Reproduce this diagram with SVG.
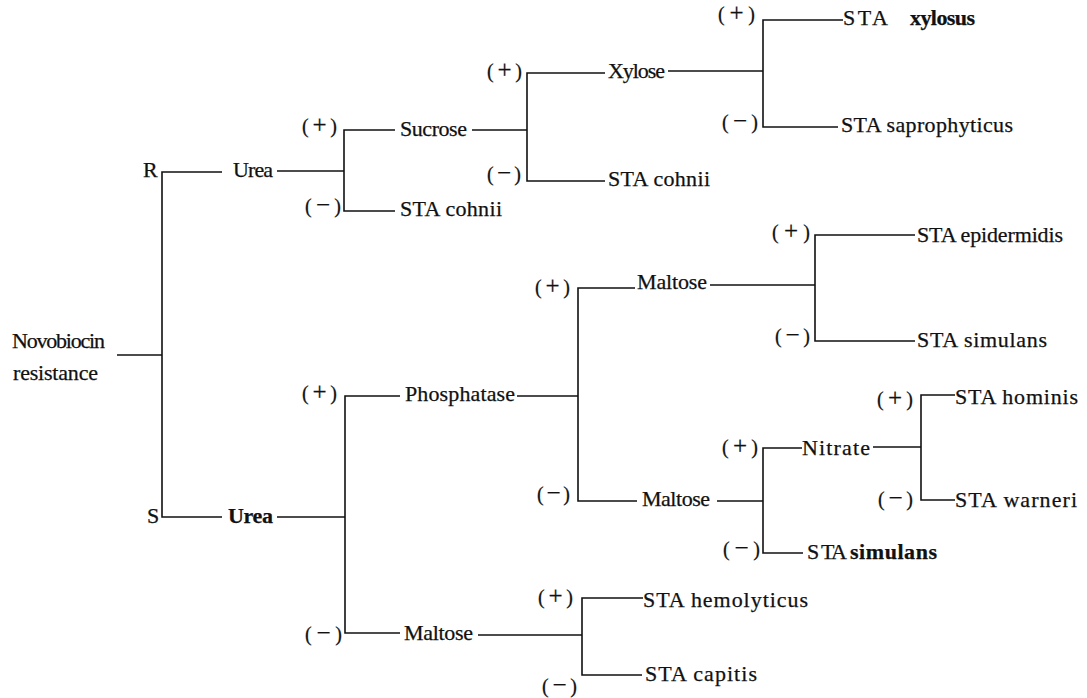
<svg xmlns="http://www.w3.org/2000/svg" width="1087" height="698" viewBox="0 0 1087 698">
<style>
text{font-family:"Liberation Serif","Times New Roman",serif;font-size:22px;fill:#111;stroke:#111;stroke-width:0.25}
.b{font-weight:bold}
.sg{font-size:20px}
.pm{font-size:25px}
#connectors path{fill:none;stroke:#111;stroke-width:1.6}
</style>
<rect width="1087" height="698" fill="#fff"/>
<g id="connectors">
<path d="M117 355H162"/>
<path d="M222 172H162V517H222"/>
<path d="M277 171H344"/>
<path d="M395 130H344V211H395"/>
<path d="M472 130H527"/>
<path d="M605 73H527V181H605"/>
<path d="M668 71H763"/>
<path d="M843 20H763V127H838"/>
<path d="M277 517H345"/>
<path d="M400 396H345V633H400"/>
<path d="M517 396H578"/>
<path d="M635 288H578V501H637"/>
<path d="M710 285H815"/>
<path d="M915 235H815V341H915"/>
<path d="M717 501H763"/>
<path d="M802 448H763V553H803"/>
<path d="M873 447H921"/>
<path d="M955 395H921V500H955"/>
<path d="M478 635H582"/>
<path d="M643 598H582V675H642"/>
</g>
<g id="signs">
<text class="sg" x="302" y="133" textLength="35">(<tspan class="pm">+</tspan>)</text>
<text class="sg" x="305" y="213" textLength="36">(<tspan class="pm">−</tspan>)</text>
<text class="sg" x="487" y="78" textLength="35">(<tspan class="pm">+</tspan>)</text>
<text class="sg" x="487" y="181" textLength="34">(<tspan class="pm">−</tspan>)</text>
<text class="sg" x="718" y="21" textLength="37">(<tspan class="pm">+</tspan>)</text>
<text class="sg" x="722" y="129" textLength="36">(<tspan class="pm">−</tspan>)</text>
<text class="sg" x="302" y="400" textLength="35">(<tspan class="pm">+</tspan>)</text>
<text class="sg" x="305" y="641" textLength="37">(<tspan class="pm">−</tspan>)</text>
<text class="sg" x="535" y="294" textLength="35">(<tspan class="pm">+</tspan>)</text>
<text class="sg" x="537" y="501" textLength="33">(<tspan class="pm">−</tspan>)</text>
<text class="sg" x="772" y="239" textLength="38">(<tspan class="pm">+</tspan>)</text>
<text class="sg" x="775" y="343" textLength="35">(<tspan class="pm">−</tspan>)</text>
<text class="sg" x="722" y="454" textLength="36">(<tspan class="pm">+</tspan>)</text>
<text class="sg" x="723" y="556" textLength="37">(<tspan class="pm">−</tspan>)</text>
<text class="sg" x="877" y="406" textLength="36">(<tspan class="pm">+</tspan>)</text>
<text class="sg" x="878" y="506" textLength="35">(<tspan class="pm">−</tspan>)</text>
<text class="sg" x="538" y="604" textLength="35">(<tspan class="pm">+</tspan>)</text>
<text class="sg" x="542" y="693" textLength="35">(<tspan class="pm">−</tspan>)</text>
</g>
<g id="n-root"><text x="12" y="348" textLength="93">Novobiocin</text><text x="13" y="380" textLength="85">resistance</text></g>
<g id="n-R"><text x="143" y="177">R</text></g>
<g id="n-S"><text x="147" y="523">S</text></g>
<g id="n-urea-r"><text x="233" y="177" textLength="40">Urea</text></g>
<g id="n-urea-s"><text class="b" x="228" y="523" textLength="45">Urea</text></g>
<g id="n-sucrose"><text x="400" y="136" textLength="67">Sucrose</text></g>
<g id="n-cohnii1"><text x="400" y="216" textLength="102">STA cohnii</text></g>
<g id="n-xylose"><text x="608" y="78" textLength="57">Xylose</text></g>
<g id="n-cohnii2"><text x="608" y="186" textLength="102">STA cohnii</text></g>
<g id="n-xylosus"><text x="843" y="25" textLength="45">STA</text><text class="b" x="910" y="25" textLength="65">xylosus</text></g>
<g id="n-saprophyticus"><text x="841" y="132" textLength="172">STA saprophyticus</text></g>
<g id="n-phosphatase"><text x="405" y="401" textLength="110">Phosphatase</text></g>
<g id="n-maltose1"><text x="637" y="289" textLength="70">Maltose</text></g>
<g id="n-maltose2"><text x="642" y="506" textLength="68">Maltose</text></g>
<g id="n-maltose3"><text x="404" y="640" textLength="69">Maltose</text></g>
<g id="n-epidermidis"><text x="917" y="242" textLength="146">STA epidermidis</text></g>
<g id="n-simulans1"><text x="917" y="347" textLength="130">STA simulans</text></g>
<g id="n-nitrate"><text x="802" y="455" textLength="68">Nitrate</text></g>
<g id="n-simulans2"><text x="807" y="559" textLength="40">S TA</text><text class="b" x="850" y="559" textLength="87">simulans</text></g>
<g id="n-hominis"><text x="955" y="404" textLength="123">STA hominis</text></g>
<g id="n-warneri"><text x="955" y="507" textLength="122">STA warneri</text></g>
<g id="n-hemolyticus"><text x="643" y="607" textLength="165">STA hemolyticus</text></g>
<g id="n-capitis"><text x="645" y="681" textLength="112">STA capitis</text></g>
</svg>
